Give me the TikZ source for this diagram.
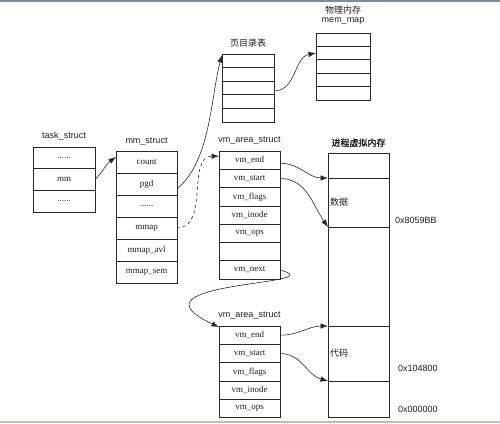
\documentclass[tikz,border=0pt]{standalone}
\usepackage{fontspec}
\setmainfont{Liberation Serif}
\setsansfont{Liberation Sans}
\newfontfamily\cjk{Noto Sans CJK SC}
\newfontfamily\cjkbold[FakeBold=1.6]{Noto Sans CJK SC}
\usepackage{tikz}
\usetikzlibrary{arrows.meta, positioning}
\definecolor{kline}{RGB}{40,40,40}
\definecolor{ktext}{RGB}{30,30,30}
\definecolor{kbartop}{RGB}{128,140,152}
\definecolor{kbarbot}{RGB}{190,190,182}
\tikzset{
  cell/.style     = {rectangle, draw=kline, line width=0.8pt, text=ktext,
                     inner sep=0pt, outer sep=0pt, font=\fontsize{9}{10}\selectfont},
  taskcell/.style = {cell, minimum width=62pt, minimum height=21.7pt},
  mmcell/.style   = {cell, minimum width=61pt, minimum height=22pt},
  pdcell/.style   = {cell, minimum width=52pt, minimum height=13.6pt},
  pagecell/.style = {cell, minimum width=54pt, minimum height=13.4pt},
  vmacell/.style  = {cell, minimum width=61pt, minimum height=18.3pt},
  memseg/.style   = {cell, minimum width=61pt},
  title/.style    = {font=\sffamily\fontsize{9}{10}\selectfont, text=ktext, inner sep=1pt},
  cjktitle/.style = {font=\cjk\fontsize{9}{10}\selectfont, text=ktext, inner sep=1pt},
  seglab/.style   = {font=\cjk\fontsize{9}{10}\selectfont, text=ktext, inner sep=1pt, anchor=west},
  addr/.style     = {font=\sffamily\fontsize{9}{10}\selectfont, text=ktext, inner sep=0pt, anchor=west},
  link/.style     = {-{Latex[length=7.5pt,width=5.5pt]}, line width=0.6pt, draw=kline},
  dashlink/.style = {link, dashed},
}
\begin{document}
\begin{tikzpicture}[x=1pt,y=1pt]
\useasboundingbox (0,0) rectangle (500,-423);
\fill[kbartop] (0,0) rectangle (500,-2);
\fill[kbarbot] (0,-420.5) rectangle (500,-423);

% ---------- task_struct ----------
\node[taskcell] (t1) at (64,-157.8) {......};
\node[taskcell, below=0pt of t1] (tmm) {mm};
\node[taskcell, below=0pt of tmm] (t3) {......};
\node[title, above=5pt of t1] {task\_struct};

% ---------- mm_struct ----------
\node[mmcell] (count) at (146.5,-162) {count};
\node[mmcell, below=0pt of count] (pgd) {pgd};
\node[mmcell, below=0pt of pgd] (mdots) {......};
\node[mmcell, below=0pt of mdots] (mmap) {mmap};
\node[mmcell, below=0pt of mmap] (mavl) {mmap\_avl};
\node[mmcell, below=0pt of mavl] (msem) {mmap\_sem};
\node[title, above=5pt of count] {mm\_struct};

% ---------- page directory ----------
\node[pdcell] (pd1) at (248,-60.8) {};
\foreach \i [count=\j from 2] in {1,...,4}
  \node[pdcell, below=0pt of pd\i] (pd\j) {};
\node[cjktitle, above=6pt of pd1] {页目录表};

% ---------- mem_map ----------
\node[pagecell] (pg1) at (343,-39.7) {};
\foreach \i [count=\j from 2] in {1,...,4}
  \node[pagecell, below=0pt of pg\i] (pg\j) {};
\node[title, above=7pt of pg1] (memmap) {mem\_map};
\node[cjktitle, above=1pt of memmap] {物理内存};

% ---------- first vm_area_struct ----------
\node[vmacell] (vend1) at (249.5,-160.2) {vm\_end};
\node[vmacell, below=0pt of vend1] (vstart1) {vm\_start};
\node[vmacell, below=0pt of vstart1] (vflags1) {vm\_flags};
\node[vmacell, below=0pt of vflags1] (vinode1) {vm\_inode};
\node[vmacell, below=0pt of vinode1] (vops1) {vm\_ops};
\node[vmacell, below=0pt of vops1] (vgap1) {};
\node[vmacell, below=0pt of vgap1] (vnext1) {vm\_next};
\node[title, above=6pt of vend1] {vm\_area\_struct};

% ---------- second vm_area_struct ----------
\node[vmacell] (vend2) at (249.5,-335.2) {vm\_end};
\node[vmacell, below=0pt of vend2] (vstart2) {vm\_start};
\node[vmacell, below=0pt of vstart2] (vflags2) {vm\_flags};
\node[vmacell, below=0pt of vflags2] (vinode2) {vm\_inode};
\node[vmacell, below=0pt of vinode2] (vops2) {vm\_ops};
\node[title, above=6pt of vend2] {vm\_area\_struct};

% ---------- process virtual memory ----------
\node[memseg, minimum height=25pt] (pm1) at (358.5,-165.5) {};
\node[memseg, minimum height=49pt, below=0pt of pm1] (pm2) {};
\node[memseg, minimum height=99pt, below=0pt of pm2] (pm3) {};
\node[memseg, minimum height=55pt, below=0pt of pm3] (pm4) {};
\node[memseg, minimum height=36pt, below=0pt of pm4] (pm5) {};
\node[cjktitle, font=\cjkbold\fontsize{9}{10}\selectfont, above=5pt of pm1] {进程虚拟内存};
\node[seglab, right=1pt of pm2.west] {数据};
\node[seglab, right=1pt of pm4.west] {代码};
\node[addr] (a1) at (395,-220) {0x8059BB};
\node[addr] (a2) at (398,-368) {0x104800};
\node[addr] (a3) at (398,-409) {0x000000};

% ---------- links ----------
\draw[link] (tmm.east) to[out=45,in=215] ([yshift=-6pt]count.north west);
\draw[link] ([yshift=-5pt]pgd.east) to[out=40,in=255,looseness=0.8] ([yshift=-1pt]pd1.north west);
\draw[link] ([yshift=-3pt]pd3.east) to[out=0,in=190] (pg2.west);
\draw[dashlink] (mmap.east) to[out=0,in=180] ([yshift=4pt]vend1.west);
\draw[link] ([yshift=-3pt]vend1.east) to[out=0,in=180] (pm1.south west);
\draw[link] (vstart1.east) to[out=0,in=125] (pm2.south west);
\draw[link] (vnext1.east) to[out=-15,in=155,out distance=60pt,in distance=110pt] ([yshift=-1pt]vend2.north west);
\draw[link] (vend2.east) to[out=0,in=180] (pm3.south west);
\draw[link] (vstart2.east) to[out=0,in=165] (pm4.south west);

\end{tikzpicture}
\end{document}
